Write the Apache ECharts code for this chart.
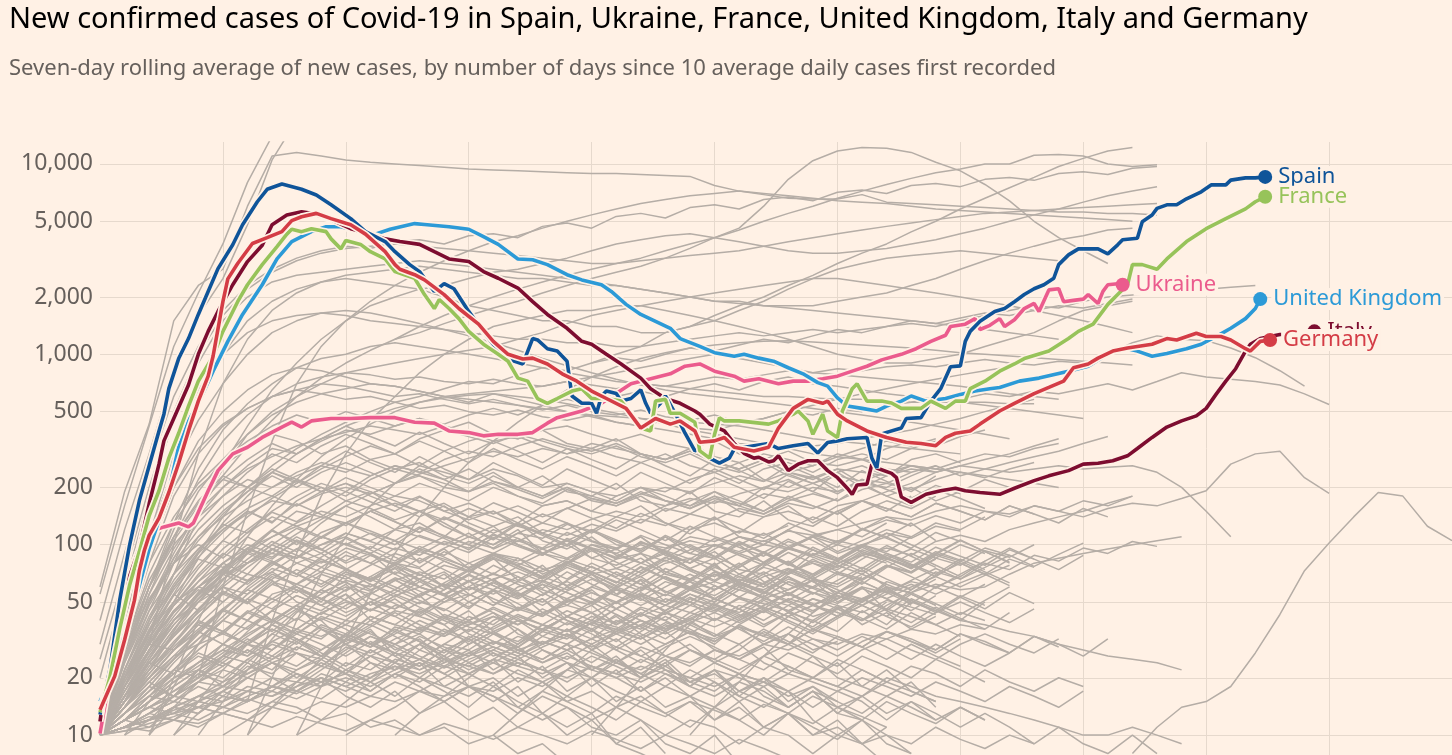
<!DOCTYPE html>
<html><head><meta charset="utf-8">
<script src="https://cdn.jsdelivr.net/npm/echarts@6/dist/echarts.min.js"></script>
<style>html,body{margin:0;padding:0;background:#fff1e5;}#c{width:1452px;height:755px;}</style>
</head><body><div id="c"></div>
<script>
// ---------- DATA ----------
const titleText = 'New confirmed cases of Covid-19 in Spain, Ukraine, France, United Kingdom, Italy and Germany';
const subtitleText = 'Seven-day rolling average of new cases, by number of days since 10 average daily cases first recorded';
const yTicks = [10, 20, 50, 100, 200, 500, 1000, 2000, 5000, 10000];

// highlighted countries: [day, 7-day average of new cases]
const spain = [[0,12.8],[2,22],[4,51],[6,99],[8,170],[10,260],[12,396],[13,485],[14,660],[16,950],[18,1210],[20,1620],[22,2140],[24,2820],[27,3760],[29,4790],[32,6330],[34,7360],[37,7850],[41,7360],[44,6870],[47,6100],[51,5160],[54,4410],[58,3910],[60,3460],[63,2960],[65,2720],[68,2140],[70,2350],[72,2210],[75,1680],[78,1320],[81,1040],[83,945],[86,890],[88,1210],[89,1190],[91,1070],[93,1040],[95,920],[96,604],[98,553],[100,553],[101,490],[102,604],[103,641],[105,622],[106,568],[108,586],[110,650],[111,553],[112,490],[114,553],[115,604],[117,490],[119,385],[121,311],[122,320],[124,285],[126,268],[128,285],[129,318],[133,331],[136,340],[138,320],[141,331],[144,340],[146,303],[148,344],[150,351],[152,360],[156,366],[157,285],[158,253],[159,382],[163,410],[164,460],[167,465],[169,568],[171,660],[173,860],[175,870],[176,1170],[177,1320],[179,1490],[182,1680],[184,1740],[186,1890],[188,2060],[190,2210],[192,2320],[194,2510],[195,2960],[197,3330],[199,3580],[203,3580],[205,3370],[207,3760],[208,4000],[211,4070],[212,4970],[214,5390],[215,5840],[217,6100],[219,6100],[221,6560],[224,7140],[226,7760],[229,7760],[230,8220],[233,8450],[235,8450],[237,8550]];
const france = [[0,13.2],[2,20],[4,36],[6,61],[8,92],[10,142],[12,192],[14,285],[16,385],[18,535],[20,723],[23,977],[25,1320],[28,1890],[30,2320],[33,2960],[36,3680],[38,4280],[39,4540],[41,4410],[43,4570],[46,4410],[47,4040],[49,3580],[50,3960],[53,3780],[55,3460],[58,3170],[60,2720],[64,2510],[66,2060],[68,1740],[69,1940],[71,1740],[73,1540],[75,1320],[78,1130],[81,1000],[83,920],[85,750],[87,723],[89,586],[91,553],[93,586],[96,641],[98,660],[100,586],[103,586],[106,568],[108,490],[110,410],[112,396],[113,568],[115,580],[116,490],[118,490],[121,440],[122,311],[124,285],[125,380],[126,465],[127,447],[130,447],[136,430],[138,447],[141,485],[142,504],[144,447],[145,380],[147,485],[148,396],[150,366],[151,504],[153,660],[154,700],[156,568],[159,568],[161,555],[163,520],[167,520],[169,568],[172,520],[174,568],[176,568],[177,660],[180,723],[183,816],[186,890],[188,950],[193,1040],[197,1210],[199,1320],[202,1440],[205,1830],[207,2060],[209,2320],[210,2960],[212,2960],[215,2800],[217,3170],[221,3910],[225,4570],[229,5160],[233,5810],[235,6330],[237,6720]];
const unitedKingdom = [[0,15],[2,19.5],[4,28],[6,41],[8,61],[10,95],[12,134],[14,192],[16,325],[18,447],[20,553],[23,816],[26,1170],[29,1620],[33,2320],[36,3170],[39,3910],[43,4410],[46,4680],[49,4680],[53,4410],[56,4280],[59,4540],[64,4860],[66,4810],[71,4680],[75,4540],[78,4150],[81,3780],[85,3170],[88,3140],[91,2960],[95,2620],[98,2460],[102,2320],[104,2140],[107,1830],[110,1620],[113,1490],[116,1370],[118,1210],[122,1100],[125,1020],[129,977],[131,1000],[134,955],[137,920],[140,850],[143,790],[146,710],[148,681],[150,590],[152,535],[155,520],[158,504],[160,535],[163,568],[165,604],[168,568],[172,586],[175,616],[178,641],[181,660],[183,670],[187,723],[191,750],[197,816],[201,866],[206,1040],[209,1070],[211,1040],[214,977],[217,1010],[221,1070],[224,1130],[228,1280],[230,1370],[233,1540],[235,1740],[236,1950]];
const italy = [[0,11.8],[1,17.8],[3,29],[5,47],[6,68],[8,96],[10,164],[12,265],[13,351],[15,460],[18,690],[20,1000],[22,1320],[24,1680],[27,2320],[30,3070],[33,3740],[35,4790],[38,5390],[41,5610],[43,5500],[47,5100],[51,4570],[55,4280],[58,4040],[61,3910],[65,3780],[68,3460],[71,3170],[75,3070],[78,2720],[81,2510],[85,2230],[88,1890],[91,1620],[95,1370],[98,1170],[100,1130],[103,1000],[106,890],[110,750],[112,660],[115,586],[118,553],[121,504],[122,485],[124,430],[127,396],[129,340],[131,302],[133,285],[134,288],[136,272],[137,276],[138,293],[140,245],[142,265],[144,276],[146,276],[148,245],[150,225],[152,198],[153,184],[154,206],[156,208],[157,265],[158,253],[161,237],[162,225],[163,178],[165,167],[168,184],[171,192],[174,198],[176,192],[179,188],[183,184],[186,198],[190,217],[193,230],[197,245],[200,265],[203,268],[206,276],[209,293],[211,320],[214,366],[217,415],[220,447],[223,475],[225,520],[227,616],[229,723],[231,840],[233,1040],[234,1130],[236,1210],[238,1240],[240,1270],[244,1280],[247,1320]];
const germany = [[0,13.6],[3,20.4],[5,31.6],[7,51],[8,73],[9,93],[10,112],[12,138],[14,188],[16,268],[18,396],[20,568],[22,768],[23,977],[24,1360],[25,1890],[26,2490],[28,3000],[31,3820],[34,4100],[37,4410],[39,5040],[41,5280],[44,5500],[47,5160],[51,4790],[54,4280],[58,3460],[60,2960],[61,2800],[64,2620],[66,2460],[70,2060],[73,1740],[77,1440],[80,1170],[83,1000],[86,945],[88,955],[91,890],[94,790],[97,723],[100,641],[103,586],[107,520],[110,410],[113,460],[116,430],[118,447],[121,396],[122,345],[125,351],[127,366],[129,325],[133,311],[136,325],[138,410],[141,520],[144,580],[147,553],[148,568],[150,485],[152,447],[156,396],[160,366],[164,345],[167,340],[170,331],[172,366],[174,385],[177,396],[179,430],[183,504],[186,553],[190,622],[193,670],[196,723],[198,850],[201,890],[203,955],[206,1040],[209,1080],[211,1100],[214,1130],[217,1210],[219,1190],[223,1290],[225,1240],[228,1240],[230,1190],[233,1070],[234,1040],[236,1170],[238,1190]];
const ukraine = [[0,10.2],[3,28],[6,73],[9,105],[11,119],[13,124],[16,130],[18,124],[19,130],[22,192],[24,245],[27,300],[30,325],[33,366],[37,415],[39,440],[41,415],[43,447],[47,460],[51,460],[55,465],[60,465],[64,440],[68,435],[71,396],[75,388],[78,373],[81,380],[85,380],[88,388],[91,435],[93,465],[98,504],[102,553],[105,622],[108,700],[112,745],[116,790],[119,866],[122,890],[125,816],[129,768],[131,723],[134,745],[138,700],[141,723],[144,723],[147,745],[150,768],[153,816],[156,866],[159,935],[163,1000],[166,1070],[169,1170],[172,1260],[173,1400],[176,1440],[178,1540],[179,1350],[181,1420],[183,1540],[184,1400],[186,1520],[188,1740],[190,1850],[191,1680],[193,2180],[195,2210],[196,1890],[198,1920],[200,1950],[201,2060],[203,1850],[204,2140],[205,2320],[207,2350],[208,2320]];

// other countries: first number = first day, then one value every GREY_STEP days
const GREY_STEP = 5;
const greyLines = [
 [0,60,190,430,1500,2300,2800,6000,11000,11500,11000,10500,10200,10000,9800,9600,9400,9300,9200,9100,9000,8900,8900,8800,8700,8600,7700,7200,6900,6600,6550,6550,6900,6300,6200,6100,6000,5900,5800,5700,5600,5600,5500,5500,5400],
 [0,40,120,300,800,1600,2500,4800,10500,17000,25000],
 [0,55,160,420,1100,2100,3800,8000,14000],
 [0,12,25,50,90,150,230,330,450,600,750,900,1050,1200,1300,1450,1600,1750,1900,2100,2300,2500,2700,2900,3200,3600,4100,4600,6000,8300,10400,11700,12200,12100,11500,10200,9200,7800,6400,5000,4100,3500,3000],
 [60,1200,1400,1600,1800,2000,2200,2400,2600,2800,3000,3200,3500,3800,4100,4500,5000,5500,6000,6600,7200,7800,8400,9000,9400,10000,10000,11100,11200,11000,10000,9700,9900],
 [100,900,1000,1100,1300,1400,1600,1800,2000,2300,2600,3000,3400,3800,4400,5000,5800,6600,7500,8500,9700,10700,11700,12200],
 [10,30,100,300,700,1200,1700,2100,2400,2600,2700,2800,2900,2800,2700,2600,2500,2500,2400,2300,2300,2200,2100,2000,1900,1900,1800,1800,1800,1900,2000,2100,2300,2500,2800,3100,3400,3700,4000,4200,4500,4600],
 [0,15,40,110,300,600,1000,1500,1900,2200,2400,2500,2400,2300,2200,2000,1800,1700,1600,1500,1500,1400,1400,1300,1300,1400,1500,1700,1900,2200,2500,2800,3000,3200,3300,3400,3500,3400,3300,3200,3100],
 [20,20,60,150,350,700,1100,1500,1900,2300,2700,3100,3500,3900,4200,4600,5000,5400,5800,6200,6500,6800,7000,7200,7000,6800,6600,6400,6300,6200,6000,5800,5700,5600,5500,5400,5300,5200,5100,5000],
 [0,11,18,35,70,140,260,420,650,900,1200,1500,1800,2000,2200,2300,2500,2700,2800,3000,3200,3500,3800,4000,4200,4300,4100,3900,3700,3500,3400,3400,3500,3600,3800,4000,4300,4600,5000,5400,5800,6300,6800,7200,7600],
 [30,15,40,90,180,300,450,600,800,1000,1200,1400,1500,1600,1700,1700,1800,1800,1700,1600,1500,1400,1300,1200,1100,1000,950,900,900,950,1000,1100,1200,1300,1500,1700,1800,1900],
 [0,30,90,250,600,1100,1700,2300,2800,3200,3500,3700,3600,3900,4000,3800,4200,4300,4100,4700,4900,4600,5300,5500,5200,5900,6100,5800,6500,6700,6400,7100,7300,7000,7700,7900,7600,8300,8500,8200,8900,9100,8800,9500,9700],
 [0,20,60,180,450,900,1500,2000,2400,2600,2700,2800,2900,3000,3100,3000,2900,2800,2700,2600,2500,2400,2300,2200,2100,2000,1900,1850,1800,1750,1700,1650,1600,1550,1500,1450,1400,1350,1300,1250,1200],
 [0,25,70,200,500,1000,1600,2200,2700,3100,3400,3600,3700,3800,3700,3600,3500,3400,3300,3200,3100,3000,3000,3100,3200,3300,3400,3500,3700,3900,4100,4300,4500,4700,4900,5100,5300,5500,5600,5700,5800,5900,6000,6100,6200],
 [0,12,25,60,130,250,400,550,700,850,950,1000,1100,1150,1100,1050,1000,950,900,850,800,760,720,700,680,660,640,620,600,600,590,580,580,570,560,560,560,560,550,550],
 [0,10,20,40,80,150,250,380,500,600,700,800,850,900,950,1000,1050,1100,1200,1300,1450,1600,1700,1800,1900,2000,2100,2200,2300,2400,2500,2500,2400,2300,2200,2100,2000,1900,1800,1700,1600,1500,1400,1300],
 [0,10,30,80,180,300,420,520,600,650,620,580,600,560,520,540,500,480,510,470,450,480,440,420,450,410,400,430,460,500,540,580,620,660,700,740,780,820,860],
 [0,12,35,90,200,350,500,650,780,850,820,760,700,680,640,600,580,560,540,520,500,480,470,460,450,440,430,420,400,380,360,350,340,330,320,310,300],
 [10,10,20,40,70,110,160,220,290,360,430,500,560,600,620,640,660,680,720,760,800,850,900,950,1000,950,900,850,800,780,760,740,720,700,680,650,620,600,580],
 [0,10,22,45,85,140,200,260,320,300,350,400,380,420,460,430,480,520,480,540,580,540,600,640,600,660,700,650,720,760,700,680,650,620,600,580,560,540,520,500,480,460],
 [30,10,20,40,70,110,160,210,260,310,350,380,360,400,420,380,350,380,340,320,350,300,280,310,270,260,280,250,240,260,230,250,270,290,310,340,370],
 [0,11,25,55,110,190,280,380,480,560,620,660,700,680,640,600,560,620,580,540,500,470,440,420,400,380,360,340,330,320,330,340,360,380,400,430,460,500,540,580],
 [0,10,18,32,55,90,140,200,260,320,380,440,500,560,600,660,720,700,780,850,820,900,960,920,1000,1080,1040,1120,1200,1150,1250,1350,1300,1400,1500,1450,1550,1650,1600,1700,1800,1750,1850,1950],
 [0,10,15,28,50,85,130,180,240,300,360,420,470,520,560,590,610,620,600,580,550,520,490,460,430,400,380,360,340,320,300,290,280,270,260,250,240,230,220,210,200],
 [40,10,18,32,55,90,140,200,270,350,440,540,650,760,860,950,1020,1080,1120,1150,1170,1180,1160,1140,1120,1100,1080,1050,1020,1000,980,960,940,920,900,880],
 [0,10,40,110,250,450,700,1000,1300,1500,1650,1700,1650,1550,1450,1350,1250,1150,1050,950,870,800,740,690,650,620,600,580,560,540,520,500,480,460,440,420,400,380,360],
 [210,8,11,14,15,18,27,43,73,102,140,188,180,125,105],
 [0,10,18,30,45,60,75,90,80,95,110,100,115,105,95,110,100,90,105,95,85,100,90,80,95,105,98,110,104,118,112,120,130,140,135,150,160,150,145,160,150,140,155,165,160,175,192,265,300,310,225,186],
 [0,10,35,90,200,320,430,520,600,650,700,680,640,600,620,580,550,580,540,510,540,500,480,510,470,450,480,440,460,500,480,520,500,540,560,600,580,620,600,640,620,660,700,650,720,800,760,740,720,690,620,545],
 [0,15,50,140,350,650,1000,1300,1500,1600,1650,1600,1500,1450,1400,1350,1300,1250,1200,1200,1150,1150,1100,1100,1150,1200,1250,1300,1250,1300,1350,1300,1350,1400,1450,1400,1500,1600,1700,1800,1750,1900,2000,2050,2100,2200,2200,2250,2300],
 [0,12,28,60,120,220,350,480,600,700,760,800,780,740,760,720,700,740,700,680,720,690,660,700,680,720,760,740,780,820,800,840,820,860,880,860,900,940,900,880,920,900,1000,1150,1250,1200,1180,1080,960,820,680],
 [0,10,14,20,26,30,34,30,36,32,28,34,30,26,30,24,28,22,26,20,24,18,22,17,20,16,19,15,18,14,17,13,16,20,18,16,15,14,13,12,11,10,10,11,10,9],
 [0,10,20,35,50,60,72,65,80,70,62,74,66,58,70,60,54,64,56,50,60,52,46,56,48,44,52,46,40,48,42,46,52,58,50,45,40,38,35,33,30,28,26,25,24,22],
 [15,10,15,22,30,38,34,42,38,46,42,50,46,40,46,40,36,42,38,34,40,36,44,40,48,44,52,48,56,52,60,56,62,58,60,70,80,85,90,95,100,105,110],
 [0,10,16,25,38,52,70,90,110,130,150,140,160,180,170,150,165,145,160,140,155,175,165,185,200,190,210,230,215,240,225,250,240,230,250,240,260,250,240,250,260,250,255,260,240,200,150,110],
 [0,10,15,25,40,55,70,80,90,85,100,110,95,120,130,110,140,150,130,160,170,150,180,200,190,220,240,210,250,270,240,280,300,280,320,350],
 [0,10,13,18,25,35,45,40,55,60,50,70,65,80,75,60,70,90,85,70,80,100,95,110,90,120,130,115,140,150,135,160,170,150,180],
 [0,10,20,35,60,90,120,150,130,170,200,180,220,250,230,200,190,210,180,160,170,150,140,160,130,120,140,110,100,120,105,90,100,110,95,85,100,90],
 [0,10,12,15,20,22,26,30,28,35,32,40,38,45,42,50,55,48,60,65,58,70,75,68,80,85,78,90,100,95,110,120,110,130],
 [0,10,18,30,45,60,55,70,65,50,45,55,40,35,45,38,30,35,28,25,30,22,26,20,24,18,22,17,20,15,18,14,16,13,15,12],
 [0,10,25,50,80,110,140,170,200,230,260,240,280,300,260,240,220,250,230,200,210,190,180,200,170,160,180,150,140,160,130,150,170,190,210,240,260,280,300,330,360],
 [0,10,14,20,28,35,30,40,35,45,40,30,35,28,32,25,30,35,30,38,45,40,50,42,48,55,50,60,52,58,65,60,70,62],
 [0,10,16,22,30,45,65,90,120,100,130,160,140,120,150,130,110,100,120,90,80,95,75,85,70,65,80,60,70,55,65,50,60,45,55,48],
 [0,10,11,13,15,14,17,20,18,22,25,21,28,24,30,26,22,25,19,23,17,20,15,18,14,16,12,15,11,13,10,12,9,11],
 [0,10,30,70,130,200,260,320,380,350,300,330,280,250,270,230,210,240,200,180,200,170,160,180,150,170,190,160,200,220,190,240,260,230,280,300,270],
 [0,10,15,22,35,55,80,70,95,85,110,100,90,105,80,95,75,85,65,78,60,70,55,65,50,60,72,64,80,70,90,82,100,92,110],
 [5,10,12,16,22,30,26,34,30,38,34,42,38,46,40,35,42,36,30,34,28,32,26,30,35,30,38,33,42,37,46,40,50],
 [10,10,14,19,26,35,45,40,52,60,55,65,72,66,80,90,82,95,105,95,85,100,90,80,95,110,100,120,140,125,150,170,155,180],
 [0,10,22,40,65,95,125,155,180,160,190,210,190,170,150,165,140,125,140,115,105,120,100,95,110,90,85,100,80,95,110,100,120,140,125],
 [15,10,13,17,22,28,36,44,40,50,46,55,62,58,66,72,64,78,70,60,68,56,64,52,46,54,44,40,48,38,44,36,42],
 [0,10,12,14,16,19,22,20,24,27,23,29,26,22,25,21,18,20,16,19,15,17,14,16,13,15,12,14,11,13,10,11,9,10,8],
 [0,10,19,32,50,75,105,140,175,210,250,290,330,300,360,400,370,340,380,350,320,300,330,290,270,300,260,240,270,230,210,240,200,230,260,240],
 [20,10,15,22,32,44,58,72,65,80,95,88,104,96,115,108,128,118,140,130,155,145,170,160,185,175,200,190,220,210,240],
 [0,10,14,21,30,42,56,50,64,58,48,55,45,52,42,38,45,35,40,33,30,36,28,33,26,30,24,28,35,30,40,35,45,38,50],
 [0,10,26,55,95,150,200,250,290,330,360,390,420,400,380,420,390,350,370,330,300,320,290,270,300,260,240,270,220,200,230,190,210,180,200,170,190,220,200],
 [25,10,12,15,18,22,27,33,30,37,34,42,38,47,43,52,48,58,53,64,58,70,64,76,70,82,76,90,84,95],
 [0,10,17,26,38,52,66,80,95,85,100,115,105,120,110,100,115,95,108,90,100,85,95,80,90,75,85,70,80,95,88,105,98,115,108,125,118],
 [0,10,13,17,24,32,42,55,70,62,76,68,58,66,54,62,50,58,46,52,42,48,38,44,36,40,33,37,30,34,28,31],
 [40,10,12,15,19,24,30,36,32,40,46,42,50,56,50,60,54,64,58,68,62,74,66,78,70,84,76,90,82,96,88],
 [0,10,20,33,48,64,80,96,110,125,140,130,150,165,150,135,155,140,125,145,130,115,135,120,105,125,110,100,115,98,110,92,105,120,110,130,120,140],
 [0,10,11,12,14,16,18,21,24,22,26,30,27,32,36,33,38,42,38,44,48,44,50,55,50,58,64,58,68,75,68,80,88,80],
 [0,10,30,60,100,140,180,220,200,240,270,250,230,260,240,220,250,215,200,230,190,180,210,170,160,190,150,140,170,135,125,150,120,110,130,105],
 [10,10,18,30,45,60,75,68,82,74,66,78,64,72,58,66,54,62,50,58,46,54,44,50,40,46,38,44,36,42,52,46,58],
 [0,10,12,15,19,23,28,34,40,36,44,50,45,54,60,54,64,70,64,74,80,72,84,90,82,94,100,92,105,96,88,100,92,84],
 [50,10,12,14,17,20,24,28,33,30,36,32,40,36,44,40,48,44,52,48,56,52,60,56,64,60,68],
 [0,10,16,24,34,46,60,76,94,114,136,160,185,210,235,260,285,310,290,320,300,340,320,300,280,310,290,270,300,280,260,290,320,350,330,360],
 [0,10,13,16,20,24,28,26,31,36,33,38,34,30,34,28,32,26,29,24,27,22,25,20,23,19,21,17,19,16,18,15],
 [30,10,14,19,25,32,40,48,44,52,60,55,64,58,52,60,54,48,55,50,45,52,47,42,48,44,40,46,42,38,44,40],
 [0,10,35,80,140,210,280,350,420,480,440,500,460,420,460,400,440,380,360,400,340,320,360,300,280,320,270,250,280,240,260,300,280,320,350,330,370,400],
 [60,10,13,16,20,25,30,36,42,38,46,54,48,58,52,62,56,66,60,72,66,78,72,84],
 [0,10,20,30,28,40,35,30,38,32,26,30,24,20,24,18,16,19,14,12,14,11,10,12,9,8,10,7,6],
 [0,10,18,28,40,50,60,55,68,62,56,64,52,46,54,42,38,44,34,30,36,28,24,28,22,18,22,16,14,17,12,10,12,9,8],
 [80,10,13,17,22,28,35,43,52,48,58,66,60,72,80,74,88,96,88,104,112,104,120,130,140,150,165,180],
 [100,10,14,20,28,38,50,64,80,96,112,104,120,135,126,142,130,150,140,160,150,170,160,180],
 [0,10,24,45,70,95,120,145,170,160,185,200,185,210,230,210,190,215,195,175,200,180,165,190,170,155,175,160,145,170,185,170,195,210,195,220,240,225,250,270],
 [0,10,15,20,28,36,46,58,52,62,72,66,78,90,82,96,110,100,115,130,120,136,150,140,160,175,165,185,200,190,210,230,215,240,260,250,275,300,290,320,340],
 [120,10,14,19,26,34,44,56,50,64,58,72,66,80,74,88,82,96,90,104,98],
 [0,10,11,12,13,12,14,13,15,14,12,13,11,12,10,11,9,10,8,9,7],
 [0,10,14,19,16,22,18,24,20,17,20,16,14,17,13,15,12,14,11,13,10,12,9,11,8],
 [0,10,28,52,80,100,85,110,95,80,90,75,65,75,60,55,65,50,45,52,40,36,42,34,30,35,28,25,29,22,20,24,18,16,19,14],
 [0,10,20,35,55,45,60,50,40,48,36,30,36,26,22,26,18,15,18,13,11,13,9,8,7],
 [0,10,16,28,42,60,80,100,90,110,95,80,90,70,60,70,55,48,56,44,38,44,34,30,35,28,25,30,24,21,26,20,18,22,17,15],
 [0,10,14,22,34,50,70,95,120,150,140,170,155,135,150,125,110,125,100,90,105,85,78,90,72,66,78,62,58,68,55],
 [0,10,12,16,22,30,40,52,66,80,72,88,80,96,88,104,96,112,104,120,112,128,118,136,126,145,135,155,145,165,155,175],
 [0,10,24,48,80,120,160,200,180,220,200,170,190,160,140,160,130,115,130,105,95,110,88,80,92,74,68,80,64,58,68,54,50,60,48],
 [0,10,13,18,25,34,45,58,72,88,80,96,88,80,92,84,76,88,80,72,84,76,68,80,72,64,76,68,60,72,64,56,68],
 [5,10,15,22,30,40,52,46,58,52,44,50,42,36,42,34,30,36,28,25,30,24,21,25,19,17,21,16,14,17,13,12],
 [0,10,18,30,48,70,95,120,150,180,210,190,230,260,240,280,310,290,330,360,330,310,340,300,280,310,270,250,280,240,220,250,210,200,230,260],
 [0,10,11,13,16,20,25,31,38,46,55,65,60,72,66,78,72,84,78,90,84,96,90,102,96,110,104,118,112,126],
 [0,10,27,60,110,170,230,200,250,220,190,210,180,160,180,150,135,150,125,115,130,105,96,110,88,80,92,74,70,82,66,62,74,60,56,66],
 [0,10,18,30,44,58,50,64,72,60,52,62,48,56,66,54,46,58,68,56,48,60,72,62,54,66,78,64,56,70,84,72,62,76,90,78,68,82,96,84,74,88],
 [0,10,12,16,21,27,24,30,36,31,26,32,38,33,28,34,40,34,29,36,42,36,31,38,44,38,33,40,46,40,35,42,48,42,37,44,50,44,39,46],
 [0,10,15,24,36,50,66,84,104,92,116,130,114,100,122,108,94,114,100,88,108,96,84,104,92,80,100,88,78,96,86,76,92,82,72,88,80,70,84,76],
 [0,10,11,13,15,18,16,20,24,21,18,22,19,16,20,17,14,18,15,13,16,14,12,15,13,11,14,12,10,13,11,9.5,12,10,9,11,9.5,8.5,10,9],
 [0,10,20,40,70,110,150,190,230,200,240,270,240,210,250,220,190,230,200,180,210,190,170,200,180,160,190,170,150,180,160,145,170,155,140,165,150,135,160,145],
 [0,10,14,20,28,38,34,44,52,46,40,48,56,49,43,52,60,52,46,55,64,56,49,58,68,59,52,62,72,62,55,65,76,66,58,69,80,70,61],
 [0,10,12,15,19,24,30,27,34,41,36,31,37,44,38,33,40,47,41,35,42,50,43,37,45,53,46,40,48,56,48,42,50,59,51,44,53,62],
 [0,10,16,26,40,56,74,64,82,70,60,72,62,53,64,55,47,57,49,42,51,44,38,46,40,34,41,36,31,37,32,28,33,29,25,30,26,23,27],
 [0,10,22,42,70,105,145,190,240,210,260,310,270,240,290,250,220,270,235,205,250,220,195,240,210,185,225,200,175,215,190,170,205,180,160,195,175,155],
 [0,10,13,17,22,28,35,44,39,48,58,51,45,54,47,41,50,44,38,46,40,35,43,37,32,39,34,30,36,31,27,33,29,25,30,26,23],
 [0,10,19,34,54,78,105,92,118,104,90,108,94,82,98,86,75,90,78,68,82,72,63,76,66,58,70,61,53,64,56,49,59,52,45,54],
 [0,10,11,12,13,15,17,15,18,21,19,17,20,23,20,18,21,24,21,19,22,26,23,20,24,28,24,21,26,30,26,23,28,32,28,25,30,34,30,27,32],
 [0,10,17,28,44,64,88,116,148,132,160,190,168,150,178,158,140,166,148,130,156,138,122,146,130,114,138,122,108,130,116,102,122,108,96,116,104],
 [0,10,12,15,18,22,27,33,40,48,43,52,62,55,49,58,69,61,54,64,76,67,59,70,83,73,64,76,90,79,69,82,97,85,75,89,105,92,81],
 [0,10,15,21,29,39,35,45,40,34,41,36,30,36,31,26,32,27,23,28,24,20,25,21,18,22,19,16,20,17,14,17,15,12,15,13,11,13,11,9,11,9,8,10,8],
 [0,10,25,50,85,130,180,240,300,270,330,380,340,300,350,310,270,320,280,250,290,260,230,270,240,210,250,220,195,235,210,185,220,195,175,205,185],
 [0,10,11,13,16,19,23,28,25,31,37,33,29,35,31,27,33,29,26,31,28,24,29,26,23,28,25,22,26,23,20,25,22,19,23,21,18,22,19,17,20,18],
 [0,10,18,31,48,68,90,80,100,88,76,92,80,70,85,74,64,78,68,59,72,62,54,66,57,50,61,53,46,56,49,42,52,45,39,47,41,36,44],
 [0,10,14,20,28,38,50,64,80,70,86,102,90,78,94,82,72,88,77,67,82,72,63,77,67,59,72,63,55,68,59,52,64,56,49,60,53,46,56,49],
 [0,10,30,65,110,165,220,280,340,300,360,420,370,330,390,340,300,350,310,270,320,280,250,300,260,230,280,245,215,260,230,200,245,215,190,230],
 [0,10,12,14,17,20,24,21,25,29,26,22,26,30,26,23,27,31,27,24,28,32,28,24,29,33,29,25,30,34,30,26,31,35,31,27,32],
 [0,10,16,24,33,44,57,50,62,74,65,57,68,80,70,61,73,86,75,66,79,93,81,71,85,100,87,76,91,107,94,82,98,115,100,88],
 [0,10,13,17,21,26,23,28,24,20,24,21,17,21,18,15,18,16,13,16,14,12,14,12,10,12,11,9,11,10,8,10,9,7],
 [0,10,21,38,60,86,116,150,132,164,144,126,150,132,116,138,122,106,128,112,98,118,104,91,110,96,84,102,90,78,94,82,72,88,78,68,82,72,63],
 [0,10,11,12,14,16,19,22,26,23,28,33,29,34,40,35,31,37,43,38,33,39,46,40,35,42,49,43,37,44,52,46,40,48,56,49,43,51,60],
 [0,10,15,23,33,46,62,80,100,122,108,130,150,132,116,140,124,108,130,114,100,120,106,93,112,98,86,104,91,80,97,85,75,90,79,70,84,74],
 [0,10,12,14,17,21,26,32,28,34,30,26,31,27,23,28,24,21,25,22,19,23,20,17,21,18,16,19,17,14,17,15,13,16,14,12,14,12],
 [0,10,17,27,40,56,74,95,84,106,94,82,98,86,76,92,80,70,85,75,66,80,70,62,75,66,58,70,62,54,66,58,51,62,55,48],
 [0,10,14,19,26,35,46,40,50,60,52,46,55,65,57,50,60,71,62,54,65,77,67,59,71,84,73,64,77,91,80,70,84,99,87,76],
 [0,10,20,36,58,84,76,92,82,70,84,74,64,76,66,58,70,61,53,64,56,49,59,52,45,55,48,42,51,45,39,47,41,36,44,38,33],
 [0,10,10.5,11,12,11.5,13,12,14,13,15,14,16,15,17,16,18,17,20,18,22,20,24,22,26,24,28,26,30,28,32,30,34,32,36,34,38,36],
 [0,10,11,12.5,12,14,13,15.5,14,17,15.5,19,17,21,19,23,21,25,23,21,24,22,20,23,21,19,22,20,18,21,19,17,20,18,16,19,17,15,18,16,14,17],
 [0,10,12,14,13,16,15,18,17,21,19,24,22,27,25,30,28,34,31,38,35,42,39,47,43,52,48,58,53,64,59,70,65,77,71,85,78,93,86,100],
 [0,10,11,10.5,12,11,13,12,11,12.5,11.5,10.5,12,11,10,11.5,10.5,9.5,11,10,9,10.5,9.5,8.5,10,9,8,9.5,8.5,7.5],
 [0,10,13,16,15,19,18,23,21,27,25,32,29,37,34,43,39,36,42,38,35,40,37,33,39,35,32,37,34,30,36,33,29,35,32,28,34,31,27,33,30,26,32],
 [0,10,12,15,18,22,20,25,30,27,23,28,33,29,25,30,36,31,27,33,39,34,29,35,42,36,31,38,45,39,34,41,48],
 [0,10,14,19,25,32,40,36,45,54,48,42,50,58,51,45,54,63,55,48,57,66,58,51,60,70,61,53,63,74,64,56,66,78,68,59,70,82],
 [0,10,11,12,13.5,15,14,16,18,16.5,19,21,19,22,25,22.5,26,29,26,30,34,30,35,40,35,41,47,41,48,55,48,56,64,56,65,75,66,76,88,77,89,102],
 [0,10,16,24,21,28,35,30,26,32,27,23,28,24,20,25,21,18,22,19,16,20,17,15,18,16,14,17,15,13,16,14,12,15,13,11.5,14,12],
 [0,10,12,11,14,13,16,15,18,17,20,18,16,19,17,15,18,16,14,17,15,13,16,14,12.5,15,13.5,12,14.5,13,11.5,14,12.5,11],
 [0,10,13,17,22,20,26,24,31,28,36,33,42,38,35,41,37,34,40,36,33,39,35,32,38,34,31,37,33,30,36,32,29,35,31,28,34,30,27,33,29],
 [0,10,12,15,19,24,30,37,45,54,48,58,68,60,53,63,74,65,57,68,80,70,61,73,86,75,65,78,92,80,70,84,99,86,75,90,106,92,80],
 [0,10,11,13,12,15,14,17,16,19,18,22,20,25,23,28,26,31,29,35,32,39,36,43,40,48,44,53,49,45,52,48,44,51,47,43],
 [0,10,14,18,16,21,19,25,22,29,26,34,30,27,33,29,26,31,28,25,30,27,24,29,26,23,28,25,22,27,24,21,26,23,20,25,22,19],
 [0,10,11,12,14,13,16,15,18,17,21,19,24,22,28,25,23,27,24,22,26,23,21,25,22,20,24,21,19,23,20,18,22,19],
 [0,10,15,22,31,42,55,49,62,56,70,63,57,67,60,54,64,58,52,62,56,50,60,54,48,58,52,46,56,50,44,54,48,42,52,46,40,50],
 [0,10,10.5,11.5,12.5,14,13,15,17,15.5,18,20,18,21,24,21,25,28,25,29,33,29,34,38,34,39,44,39,45,51,45,52,59,52,60,68,60,69,78],
 [0,10,12,14,16,15,18,17,20,19,23,21,26,24,22,25,23,21,24,22,20,23,21,19,22,20,18,21,19,17,20,18,16,19,17,15],
 [0,10,18,28,40,54,70,62,78,95,84,74,88,78,69,82,73,65,77,68,61,72,64,57,68,60,54,64,57,51,60,54,48,57,51,45,54,48],
 [0,10,11,12,13,14,15,17,16,18,20,18,21,23,21,24,27,24,28,31,28,32,36,32,37,41,37,42,47,42,48,54,48,55,62,55,63,71],
 [0,10,28,60,105,160,220,200,240,215,190,225,200,180,210,190,170,200,180,165,195,175,160,185,170,155,180,165,150,175,160,145,170,155,140,165,150,135,160,145,130,155,140],
 [0,10,20,38,62,92,128,115,140,125,110,130,118,105,124,112,100,120,108,96,116,104,94,112,100,90,108,97,87,104,94,84,100,90,81,97,87,78,94,84],
 [0,10,15,24,36,52,72,96,86,104,94,115,104,94,112,101,91,109,98,88,106,95,86,103,93,84,100,90,81,97,88,79,94,85,77,92,83]
];

// ---------- CHART ----------
const FONT = '"Noto Sans", "Open Sans", sans-serif';
const BG = '#fff1e5';
const highlights = [
  {name: 'Ukraine', data: ukraine, color: '#eb5b8d'},
  {name: 'United Kingdom', data: unitedKingdom, color: '#2c9ad7'},
  {name: 'Italy', data: italy, color: '#7d0d30'},
  {name: 'Spain', data: spain, color: '#0f5499'},
  {name: 'France', data: france, color: '#97c35a'},
  {name: 'Germany', data: germany, color: '#d43c46'}
];

const series = [];
greyLines.forEach(row => {
  series.push({
    type: 'line', silent: true, symbol: 'none', animation: false, z: 1,
    data: row.slice(1).map((v, k) => [row[0] + k * GREY_STEP, v]),
    lineStyle: {color: '#b5ada6', width: 1.5}
  });
});
highlights.forEach(h => {
  series.push({type: 'line', silent: true, symbol: 'none', animation: false, z: 2,
    data: h.data, lineStyle: {color: BG, width: 7}});
  series.push({type: 'line', silent: true, symbol: 'none', animation: false, z: 2,
    data: h.data, lineStyle: {color: h.color, width: 3.6}});
});
const labelOrder = ['Spain', 'France', 'Ukraine', 'United Kingdom', 'Italy', 'Germany'];
series.push({
  type: 'scatter', silent: true, animation: false, z: 5, symbolSize: 14,
  data: labelOrder.map(n => {
    const h = highlights.find(x => x.name === n);
    return {
      value: h.data[h.data.length - 1],
      itemStyle: {color: h.color, opacity: 1},
      label: {show: true, position: 'right', distance: 4, formatter: n, color: h.color,
        fontSize: 22, fontFamily: FONT, backgroundColor: BG, padding: [0, 2, 0, 2]}
    };
  })
});

const chart = echarts.init(document.getElementById('c'), null, {renderer: 'canvas'});
chart.setOption({
  backgroundColor: BG,
  animation: false,
  title: {
    text: titleText, subtext: subtitleText, left: 4, top: 0, itemGap: 24,
    textStyle: {fontSize: 29, fontWeight: 'normal', color: '#000000', fontFamily: FONT},
    subtextStyle: {fontSize: 22, color: '#66605c', fontFamily: FONT}
  },
  grid: {left: 100, right: 0, top: 142, bottom: 0},
  xAxis: {
    type: 'value', min: 0, max: 275, interval: 25,
    axisLine: {show: false}, axisTick: {show: false}, axisLabel: {show: false},
    splitLine: {show: true, showMinLine: false, showMaxLine: false, lineStyle: {color: '#e6d9cd', width: 1}}
  },
  yAxis: {
    type: 'log', logBase: 10, min: 7.86, max: 13040,
    axisLine: {show: false},
    axisTick: {show: false, customValues: yTicks},
    axisLabel: {customValues: yTicks, formatter: v => Number(v).toLocaleString('en-US'),
      fontSize: 23, color: '#66605c', fontFamily: FONT, margin: 7},
    splitLine: {show: true, lineStyle: {color: '#e6d9cd', width: 1}}
  },
  series: series
});
</script></body></html>
